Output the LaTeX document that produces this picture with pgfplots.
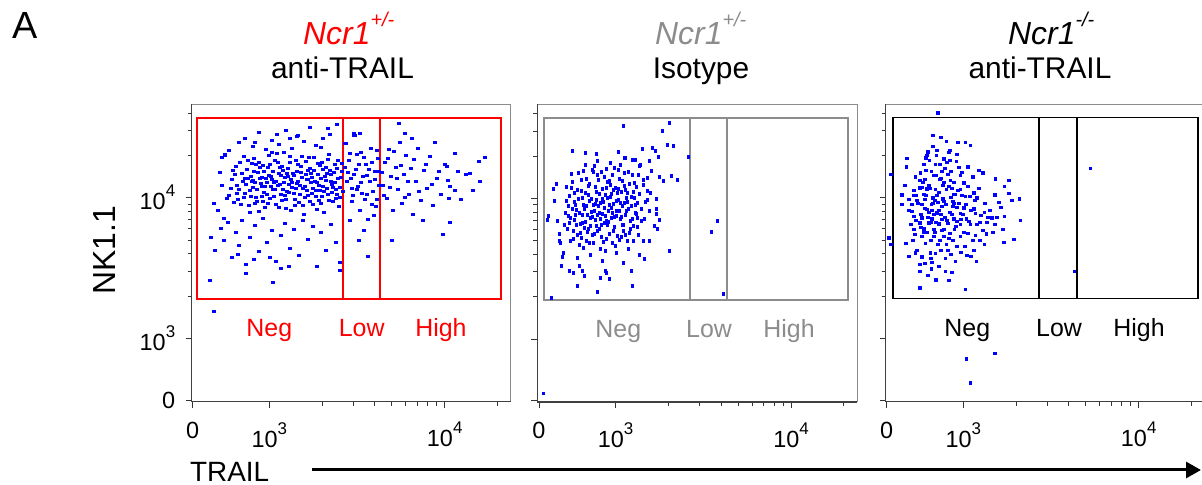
\documentclass[border=0pt]{standalone}
\usepackage{pgfplots}
\pgfplotsset{compat=1.18}
\usepackage{fontspec}
\setmainfont{Liberation Sans}
\usetikzlibrary{arrows.meta}
\definecolor{gg}{RGB}{140,140,140}
\definecolor{dotblue}{RGB}{0,0,255}
\newcommand{\tsup}[1]{\raisebox{13bp}{\fontsize{17}{17}\selectfont #1}}
\pgfplotsset{flow/.style={
  x=1bp, y=1bp, anchor=south west,
  axis line style={draw=none},
  tick pos=left, tick align=outside,
  xtick={0,76.6,252}, xticklabels={0,10\tsup{3},10\tsup{4}},
  ytick={0,61.7,202.3},
  minor xtick={129.4,160.3,182.2,199.2,213.1,224.8,235.0,244.0,304.8},
  minor ytick={104,128.8,146.3,160,171.1,180.5,188.7,195.9,244.6,269.4,286.9},
  major tick length=6bp, minor tick length=4bp,
  every tick/.style={black!80, line width=0.9bp},
  tick label style={font=\fontsize{23.5}{23.5}\selectfont},
  xticklabel style={yshift=-11bp},
  yticklabel style={xshift=-7bp},
  clip=false,
},
dots/.style={only marks, mark=square*, mark size=1.2bp, color=dotblue, mark options={line width=0.2bp}}
}
\newcommand{\frameit}{%
  \draw[black!45, line width=0.9bp] (rel axis cs:0,1) -- (rel axis cs:1,1) -- (rel axis cs:1,0);
  \draw[black!75, line width=1.2bp] (rel axis cs:0,1) -- (rel axis cs:0,0) -- (rel axis cs:1,0);}
\newcommand{\sups}[1]{\raisebox{18bp}{\fontsize{20}{20}\selectfont #1}}
\begin{document}
\begin{tikzpicture}
% ---------------- Panel 1 ----------------
\begin{axis}[flow, at={(191.7bp,83.3bp)}, xmin=-1, xmax=318, ymin=-1.7, ymax=296,
  yticklabels={0,10\tsup{3},10\tsup{4}}]
\frameit
\addplot[dots] coordinates {
(38,212) (42,226) (45,201) (47,238) (50,219) (52,207) (54,231) (56,195) (58,224) (60,213) (61,242) (63,203) (65,228) (66,189) (68,217) (70,235) (71,208) (73,222) (75,197) (76,245) (78,214) (80,229) (81,204) (83,219) (85,238) (86,193) (88,225) (90,211) (91,248) (93,201) (95,232) (96,216) (98,190) (100,227) (101,207) (103,240) (105,219) (106,198) (108,234) (110,212) (111,186) (113,226) (115,205) (116,243) (118,218) (120,196) (121,230) (123,210) (125,237) (126,200) (128,222) (130,214) (131,188) (133,233) (135,206) (136,246) (138,219) (140,199) (141,228) (143,211) (145,240) (146,194) (148,223) (150,209)
(40,230) (44,215) (48,196) (51,244) (55,222) (57,210) (59,237) (62,218) (64,199) (67,233) (69,223) (72,214) (74,206) (77,236) (79,221) (82,211) (84,247) (87,216) (89,200) (92,223) (94,209) (97,238) (99,218) (102,195) (104,229) (107,215) (109,244) (112,203) (114,221) (117,232) (119,207) (122,219) (124,191) (127,235) (129,204) (132,224) (134,212) (137,230) (139,208) (142,218) (144,232) (147,203) (149,237)
(36,205) (39,221) (41,198) (43,234) (46,211) (49,227) (51,203) (53,216) (55,240) (57,188) (59,219) (61,229) (62,197) (64,211) (66,238) (67,222) (69,204) (71,229) (72,193) (74,218) (75,233) (77,202) (78,224) (80,211) (82,240) (83,196) (85,215) (86,227) (88,206) (89,234) (91,218) (93,192) (94,227) (96,208) (97,244) (99,213) (101,225) (102,201) (104,217) (105,236) (107,206) (109,223) (110,195) (112,214) (113,239) (115,221) (117,199) (118,227) (120,212) (121,243) (123,204) (125,226) (126,215) (128,197) (130,231) (131,209) (133,220) (135,241) (136,200) (138,226) (140,213) (142,236) (143,202) (145,222) (147,213) (149,229)
(44,207) (52,222) (58,204) (63,236) (69,214) (76,225) (81,218) (87,233) (92,205) (98,221) (103,212) (108,228) (114,210) (119,223) (124,218) (129,238) (134,227) (139,216) (144,206) (60,220) (95,224) (115,230) (70,199) (90,230) (127,210)
(22,150) (28,172) (31,160) (35,178) (39,143) (43,168) (46,155) (49,180) (53,136) (57,163) (62,175) (66,149) (70,182) (74,158) (79,170) (83,139) (88,165) (92,177) (97,152) (101,171) (106,145) (110,180) (115,161) (120,174) (124,134) (128,168) (133,150) (138,176) (143,158) (147,130)
(17,120) (53,127) (80,118) (96,134) (147,138) (175,144) (77,143) (61,141) (21,89) (88,132) (45,146)
(32,246) (36,250) (46,258) (52,262) (60,254) (66,268) (73,251) (79,260) (86,256) (93,270) (99,252) (104,264) (111,259) (117,273) (123,255) (130,262) (137,266) (144,276) (128,253) (84,266)
(62,258) (105,265) (135,272) (206,277) (212,267) (167,267) (161,265) (152,257) (97,262) (79,248)
(153,257) (156,240) (158,222) (160,205) (162,265) (163,231) (165,214) (167,190) (168,248) (170,224) (172,201) (173,236) (175,181) (177,219) (178,252) (180,209) (182,229) (183,194) (185,242) (186,215) (155,228) (159,212) (164,246) (169,207) (174,225) (179,238) (184,201) (157,180) (171,170) (181,185) (161,267) (166,160)
(152,233) (154,219) (157,247) (159,199) (161,226) (164,211) (166,236) (168,218) (171,243) (174,206) (176,231) (179,196) (182,221) (184,250) (186,229)
(190,215) (192,238) (194,202) (196,251) (198,224) (200,190) (203,233) (205,211) (207,258) (209,197) (211,226) (213,245) (216,206) (218,232) (220,186) (223,219) (225,252) (228,200) (231,230) (234,212) (237,244) (240,195) (244,222) (248,206) (252,236) (257,214) (262,247) (268,201) (273,226) (280,210) (286,239) (292,243) (199,160) (230,180) (250,166) (219,262) (242,258) (265,229) (254,234) (277,227) (287,219) (262,210) (257,178) (256,202)
(189,228) (191,205) (195,242) (197,213) (201,249) (204,222) (208,235) (212,203) (215,219) (221,241) (226,209) (233,236) (239,216) (246,229) (255,220)
(29,243) (32,245) (21,197) (18,163) (29,215) (31,182) (34,202) (27,228) (25,190)
};
\draw[red, line width=1.6bp] (axis cs:4,100.7) rectangle (axis cs:308.3,281.7);
\draw[red, line width=1.6bp] (axis cs:150,100.7) -- (axis cs:150,281.7);
\draw[red, line width=1.6bp] (axis cs:187.3,100.7) -- (axis cs:187.3,281.7);
\node[red, anchor=base, font=\fontsize{25}{25}\selectfont] at (axis cs:76.6,63) {Neg};
\node[red, anchor=base, font=\fontsize{25}{25}\selectfont] at (axis cs:169,63) {Low};
\node[red, anchor=base, font=\fontsize{25}{25}\selectfont] at (axis cs:248.3,63) {High};
\end{axis}
% ---------------- Panel 2 ----------------
\begin{axis}[flow, at={(537.3bp,83bp)}, xmin=-1.7, xmax=318.3, ymin=-1.3, ymax=296.7,
  yticklabels={}]
\frameit
\addplot[dots] coordinates {
(26,188) (28,172) (30,205) (31,160) (33,219) (35,181) (36,196) (38,166) (39,228) (41,177) (42,210) (44,153) (45,192) (47,222) (48,169) (50,200) (51,183) (53,231) (54,158) (56,214) (57,175) (59,195) (60,207) (62,164) (63,187) (65,224) (66,150) (68,203) (69,179) (71,216) (72,193) (74,170) (75,233) (77,185) (78,208) (80,161) (81,198) (83,220) (84,176) (86,211) (87,190) (89,229) (90,168) (92,204) (93,182) (95,218) (96,196) (98,174) (99,226)
(27,200) (29,185) (32,213) (34,170) (37,191) (40,156) (43,203) (46,179) (49,215) (52,189) (55,167) (58,226) (61,182) (64,199) (67,162) (70,220) (73,188) (76,155) (79,212) (82,184) (85,228) (88,199) (91,172) (94,209) (97,187) (100,235) (46,236) (58,240) (71,238) (85,243) (93,241) (38,143) (51,146) (63,140) (77,148) (89,152) (57,201) (66,185) (74,211) (49,172) (62,229) (82,164) (35,208) (43,186) (54,196) (68,176) (79,231)
(25,176) (27,214) (29,195) (31,183) (32,227) (34,162) (35,199) (37,176) (38,211) (40,188) (41,168) (42,221) (44,196) (45,173) (46,208) (47,160) (48,186) (50,217) (51,175) (52,202) (53,166) (54,229) (55,190) (56,181) (57,209) (58,170) (59,221) (60,188) (61,198) (62,176) (63,212) (64,159) (65,193) (66,206) (67,180) (68,219) (69,190) (70,167) (71,204) (72,183) (73,226) (74,197) (75,174) (76,213) (77,190) (78,165) (79,201) (80,222) (81,182) (82,209) (83,195) (84,170) (85,215) (86,186) (87,203) (88,160) (89,192) (90,217) (91,180) (92,195) (93,226) (94,175) (95,203) (96,188) (97,214) (98,198) (99,166) (100,207) (102,192) (104,216) (106,199) (108,210) (110,190) (112,230)
(36,186) (39,202) (43,178) (47,195) (49,206) (53,184) (56,197) (58,186) (60,172) (63,202) (65,178) (67,213) (70,196) (72,207) (75,184) (77,200) (80,190) (83,176) (85,198) (88,208) (30,178) (33,192) (42,163) (50,158) (61,152) (73,158) (86,166) (94,160) (55,235) (67,232) (81,236) (44,230)
(20,160) (24,148) (18,180) (15,200) (22,135) (30,130) (45,125) (70,122) (38,115) (84,138) (92,130) (105,142) (110,160) (115,175) (104,160) (102,180)
(58,109) (67,128) (93,115) (66,130) (61,123) (34,128) (43,130) (40,135) (23,144) (12,103) (4.3,7.3)
(84,275) (130,278) (123,270) (128,256) (134,255) (116,250) (113,253) (103,252) (110,240) (119,244) (149,244) (138,221) (132,225) (124,220) (120,224) (33,250) (46,248) (57,247) (79,249) (86,243) (96,241) (101,236) (117,202) (117,192) (117,187) (120,181) (118,172) (111,208) (108,201) (130,150) (100,146) (105,182) (98,183) (104,221) (108,223)
(14,212) (9,185) (8,181) (17,217) (20,167) (21,158)
(178,180) (172,169) (184,107)
};
\draw[gg, line width=1.8bp] (axis cs:5,100.7) rectangle (axis cs:309.3,282.4);
\draw[gg, line width=1.8bp] (axis cs:151,100.7) -- (axis cs:151,282.4);
\draw[gg, line width=1.8bp] (axis cs:188.3,100.7) -- (axis cs:188.3,282.4);
\node[gg, anchor=base, font=\fontsize{25}{25}\selectfont] at (axis cs:79.3,63) {Neg};
\node[gg, anchor=base, font=\fontsize{25}{25}\selectfont] at (axis cs:170,63) {Low};
\node[gg, anchor=base, font=\fontsize{25}{25}\selectfont] at (axis cs:250,63) {High};
\end{axis}
% ---------------- Panel 3 ----------------
\begin{axis}[flow, at={(885.7bp,83.3bp)}, xmin=-1, xmax=318, ymin=-1.7, ymax=296,
  yticklabels={}]
\frameit
\addplot[dots] coordinates {
(51,287.4) (46,264.7) (54,263) (59.3,259) (71,258) (78.3,258) (83.3,255) (62.7,250) (61.7,248) (41,248.4) (46,254) (20,241.7) (39,242.4) (42.3,239.7) (49.3,244.7) (56.7,241.4) (69.3,239) (19.3,233.4) (36.7,235.7) (48.3,235.7) (81,233.4) (91.7,230) (96,227.4) (28.3,223.4) (33.3,227.4) (44.3,229) (55,229) (64,229) (73.3,224.7) (86,223.4) (108.3,221.4) (121.7,220) (37.7,220.7) (52.7,220.7) (63.3,220) (76.7,217.4) (32.7,212.4) (40,211.4) (48.3,210.7) (59.3,210.7) (73.3,210.7) (86.7,207.4) (117.3,214) (121.7,206.7) (132.3,201.4) (125,200) (107.7,205.4) (15,205.4) (26.7,204.7) (36.7,205.7) (46,202.4) (56,201.4) (66.7,205.7) (78.3,204) (90,202.4) (21.7,200.7) (15,195.7) (25,195.7) (35,195.7) (44.3,195.7) (55,194) (66,194) (76.7,192.4) (86.7,191.4) (114,193) (25,189) (40,190.7) (50,187.4) (62.7,188) (73.3,186.7) (88.3,186.7) (97.3,188) (101,183) (105,182.4) (110,183) (117.3,184) (133.3,180) (26.7,184) (35,182.4) (45,181.4) (55,180.7) (66.7,181.4) (79.3,181.4) (32.7,177.4) (41.7,177.4) (51.7,176.4) (60.7,176.7) (73.3,175.7) (83.3,175.7) (107.7,175.7) (26.7,170.7) (36.7,171.4) (46.7,170.7) (56.7,170.7) (67.3,170.7) (81,166.7) (88.3,164.7) (99.3,166.4) (115.7,170.7) (35,164) (46.7,164) (56.7,164) (73.3,164) (126.7,160.7) (116.7,158) (1.7,162.4) (4,155.7) (4,225.7) (19,156.7) (38.3,156.7) (50.7,155.7) (59.3,155.7) (70,154) (77.7,154) (92.7,160) (97.3,155.7) (28.3,147.4) (43.3,147.4) (48.3,146.7) (60.7,149.7) (21.7,144) (35,143.4) (45,138) (58.3,141.7) (68.3,139) (80,145) (84,144) (89.3,139) (32.7,135.7) (32.7,129) (44.3,131.4) (58.3,129) (65,128) (41,125) (48.7,120.4) (32.7,112.4) (78.3,110.7) (187.3,129) (203.3,231.7) (79.3,41.4) (107.7,47) (83.3,17.4)
(30,200) (38,192) (42,215) (47,186) (52,208) (57,199) (62,214) (67,197) (70,179) (34,173) (44,178) (54,186) (63,167) (72,197) (39,205) (49,225) (58,232) (68,206) (29,180) (45,190) (53,160) (66,160) (40,168) (75,228) (60,238) (51,198) (36,218) (48,168) (57,218) (65,212)
(18,215) (22,190) (24,176) (27,210) (28,166) (31,197) (33,220) (34,186) (37,168) (38,201) (39,230) (41,183) (43,212) (44,160) (46,197) (47,225) (49,178) (50,205) (52,190) (53,236) (55,170) (56,215) (58,183) (59,196) (61,226) (62,162) (64,203) (65,186) (67,218) (69,174) (70,193) (72,233) (74,181) (75,205) (77,168) (79,196) (81,214) (82,179) (84,190) (86,160) (88,200) (90,176) (92,212) (94,185) (96,170) (98,197) (100,178) (103,190) (106,168) (112,198)
(29,205) (35,213) (42,188) (48,200) (54,222) (60,180) (66,199) (71,210) (76,186) (83,204) (40,245) (50,250) (63,240) (70,246) (30,150) (44,142) (54,150) (64,146) (74,148) (38,137) (52,134) (62,120) (26,160) (87,150) (93,178)
};
\draw[black, line width=1.8bp] (axis cs:6.6,101.4) rectangle (axis cs:311,282.4);
\draw[black, line width=1.8bp] (axis cs:152.6,101.4) -- (axis cs:152.6,282.4);
\draw[black, line width=1.8bp] (axis cs:190.3,101.4) -- (axis cs:190.3,282.4);
\node[black, anchor=base, font=\fontsize{25}{25}\selectfont] at (axis cs:80.6,63) {Neg};
\node[black, anchor=base, font=\fontsize{25}{25}\selectfont] at (axis cs:172.3,63) {Low};
\node[black, anchor=base, font=\fontsize{25}{25}\selectfont] at (axis cs:252.3,63) {High};
\end{axis}
% ---------------- Titles and labels ----------------
\node[anchor=base west, font=\fontsize{38}{38}\selectfont] at (9bp,446bp) {A};
\node[anchor=base west, inner sep=0pt, red, font=\fontsize{32}{32}\selectfont\itshape] at (303bp,440bp) {Ncr1\sups{+/-}};
\node[anchor=base, font=\fontsize{30}{30}\selectfont] at (342.5bp,406bp) {anti-TRAIL};
\node[anchor=base west, inner sep=0pt, gg, font=\fontsize{32}{32}\selectfont\itshape] at (655bp,440bp) {Ncr1\sups{+/-}};
\node[anchor=base, font=\fontsize{30}{30}\selectfont] at (701bp,406bp) {Isotype};
\node[anchor=base west, inner sep=0pt, black, font=\fontsize{32}{32}\selectfont\itshape] at (1008bp,440bp) {Ncr1\sups{-/-}};
\node[anchor=base, font=\fontsize{30}{30}\selectfont] at (1040bp,406bp) {anti-TRAIL};
\node[anchor=base, rotate=90, font=\fontsize{32}{32}\selectfont] at (115bp,235bp) {NK1.1};
\node[anchor=base west, inner sep=0pt, font=\fontsize{28}{28}\selectfont] at (190bp,4bp) {TRAIL};
\draw[line width=3bp, -{Triangle[length=15bp,width=16bp]}] (312bp,15bp) -- (1201bp,15bp);
\pgfresetboundingbox
\useasboundingbox (0,0) rectangle (1202bp,485bp);
\end{tikzpicture}
\end{document}
